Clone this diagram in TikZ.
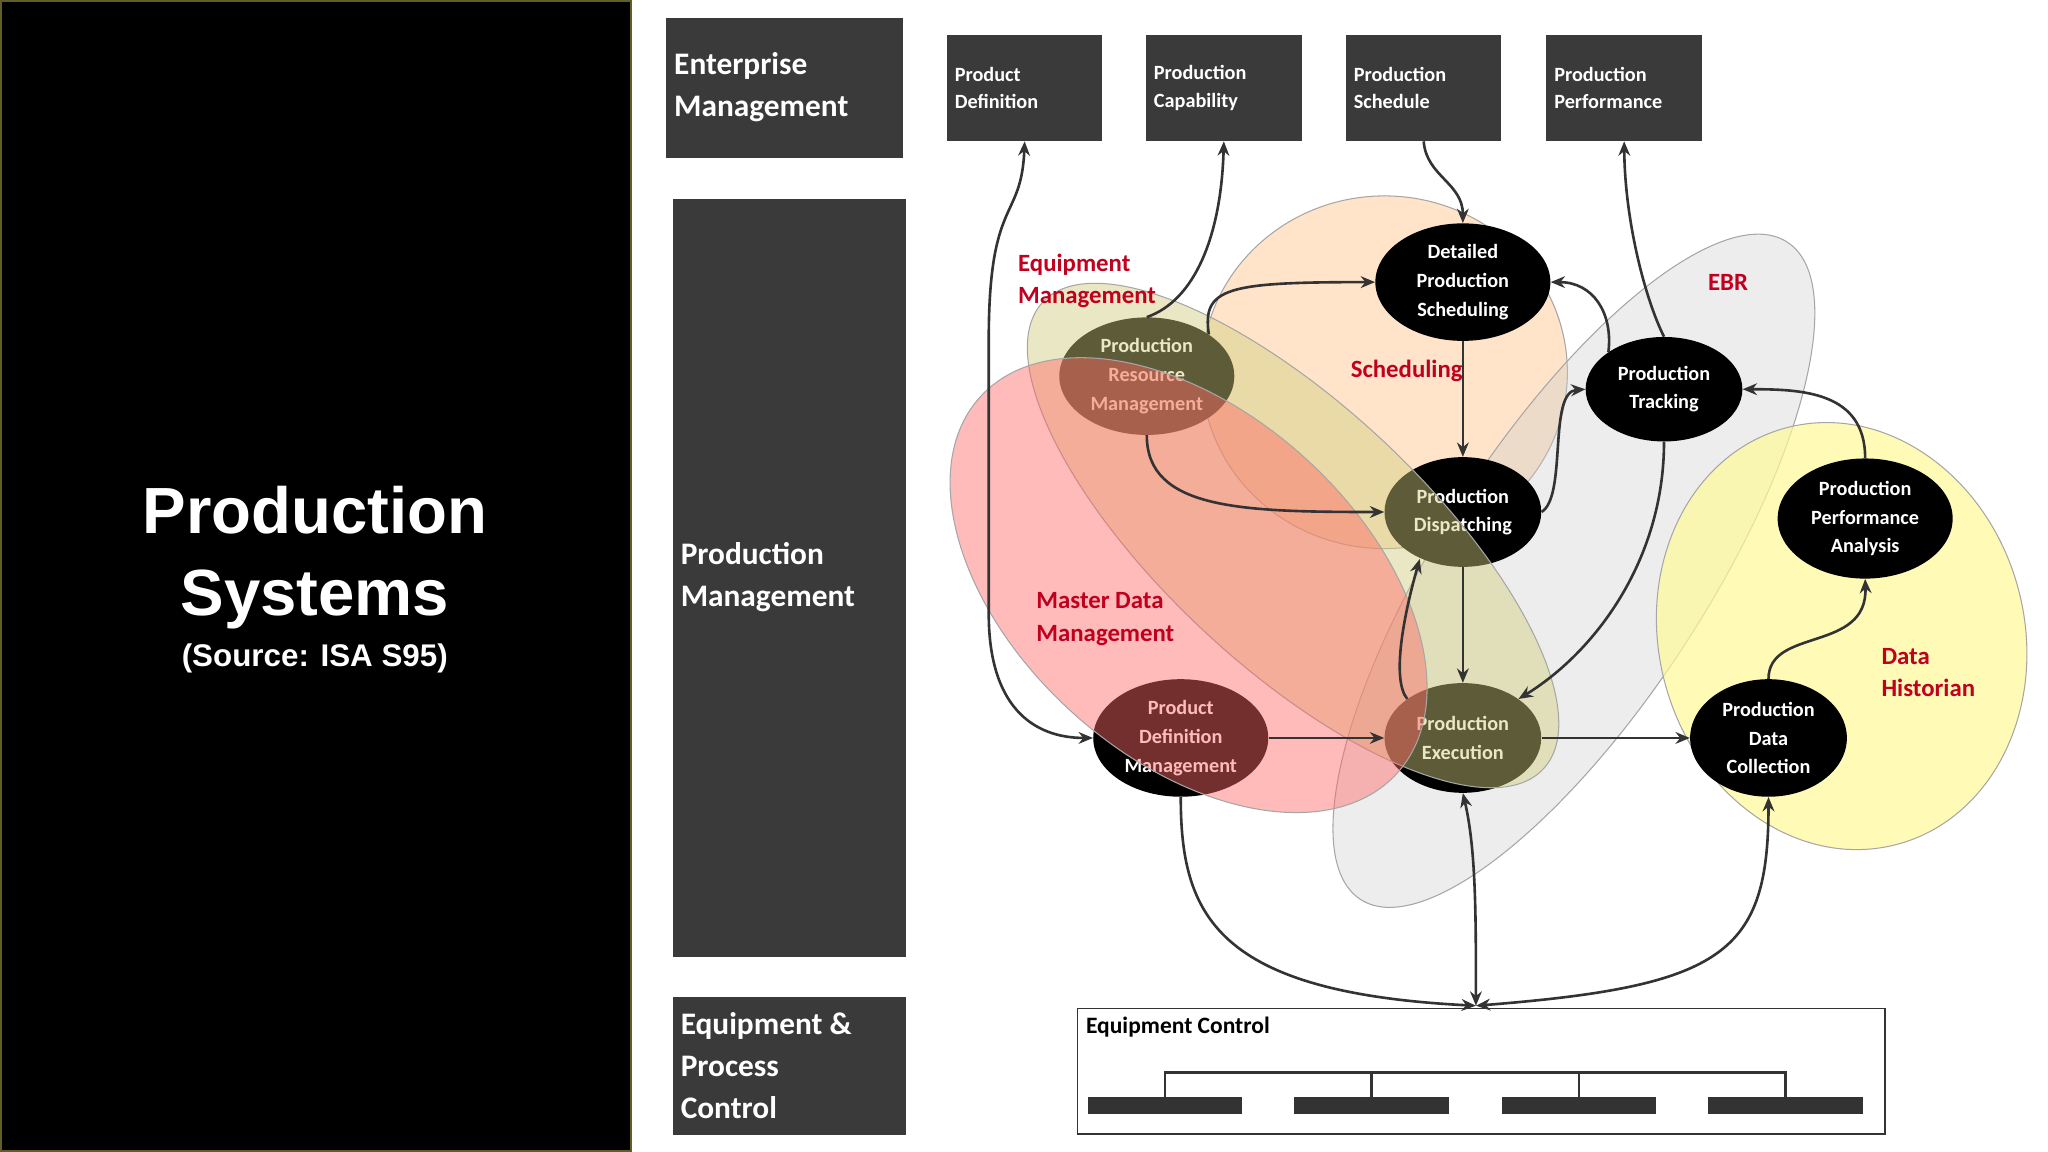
\documentclass[tikz,border=0pt]{standalone}
\usepackage{fontspec}
\setmainfont{Carlito}
\newfontfamily\titlefont{Liberation Sans}
\usetikzlibrary{arrows.meta,shapes.geometric}
\definecolor{boxgray}{HTML}{3A3A3A}
\definecolor{lblred}{HTML}{C0001E}
\definecolor{arr}{HTML}{333333}
\begin{document}
\begin{tikzpicture}[x=1pt,y=-1pt,
  grey/.style={fill=boxgray,draw=none,text=white,font=\bfseries\fontsize{24}{32}\selectfont,align=left,anchor=north west,inner sep=6pt},
  topbox/.style={fill=boxgray,draw=none,text=white,font=\bfseries\fontsize{15.5}{21}\selectfont,align=left,minimum width=119pt,minimum height=81pt,text width=107pt,inner sep=5pt},
  func/.style={ellipse,fill=black,text=white,font=\bfseries\fontsize{15.5}{22}\selectfont,align=center,inner sep=0pt,minimum width=134pt,minimum height=90pt},
  lbl/.style={text=lblred,font=\bfseries\fontsize{19}{25}\selectfont,align=left},
  con/.style={draw=arr,line width=2pt,-{Stealth[length=11pt,width=9pt]}},
  blob/.style={draw=gray!70,line width=0.8pt,fill opacity=0.4}]
\useasboundingbox (0,0) rectangle (1568,882);
\fill[white] (0,0) rectangle (1568,882);
\fill[black] (0,0) rectangle (483,882);
\draw[draw=olive!60!black,line width=1.5pt] (1,1) rectangle (483,881);
\node[text=white,font=\titlefont\bfseries\fontsize{50}{63}\selectfont,align=center] (title) at (241,427) {Production\\Systems};
\node[text=white,font=\titlefont\bfseries\fontsize{24}{30}\selectfont] (src) at (241,504) {(Source: ISA S95)};
% left grey boxes
\fill[boxgray] (510,14) rectangle (691,121);
\node[grey,anchor=west] (em) at (510,67) {Enterprise\\Management};
\fill[boxgray] (515,152) rectangle (694,733);
\node[grey,anchor=west] (pm) at (515,442) {Production\\Management};
\fill[boxgray] (515,763) rectangle (694,869);
\node[grey,anchor=west] (epc) at (515,816) {Equipment \&\\Process\\Control};
% top boxes
\node[topbox] (pd) at (784.5,67.5) {Product\\Definition};
\node[topbox] (pc) at (937,67.5) {Production\\Capability};
\node[topbox] (ps) at (1090,67.5) {Production\\Schedule};
\node[topbox] (pp) at (1243.5,67.5) {Production\\Performance};
% background blobs
\path[blob,fill=orange!35,fill opacity=0.6] (1060,285) ellipse [x radius=140,y radius=135];
\path[blob,fill=gray!40,fill opacity=0.35,rotate around={57:(1205,437)}] (1205,437) ellipse [x radius=300,y radius=102];
\path[blob,fill=yellow!40,fill opacity=0.7,rotate around={15:(1410,487)}] (1410,487) ellipse [x radius=140,y radius=165];
% function ellipses
\node[func] (dps) at (1120,216) {Detailed\\Production\\Scheduling};
\node[func,minimum width=120pt,minimum height=80pt] (tr) at (1274,298) {Production\\Tracking};
\node[func,minimum width=120pt,minimum height=84pt] (dis) at (1120,392) {Production\\Dispatching};
\node[func,minimum height=92pt] (ppa) at (1428,397) {Production\\Performance\\Analysis};
\node[func,minimum width=120pt,minimum height=84pt] (ex) at (1120,565) {Production\\Execution};
\node[func,minimum width=120pt] (pdc) at (1354,565) {Production\\Data\\Collection};
\node[func] (pdm) at (904,565) {Product\\Definition\\Management};
\node[func] (prm) at (878,288) {Production\\Resource\\Management};
% overlay blobs
\path[blob,fill=olive!40,fill opacity=0.45,rotate around={-43:(990,410)}] (990,410) ellipse [x radius=262,y radius=100];
\path[blob,fill=red!60,fill opacity=0.45,rotate around={-42:(910,448)}] (910,448) ellipse [x radius=215,y radius=132];
% labels
\node[lbl,anchor=west] (l1) at (776,215) {Equipment\\Management};
\node[lbl] (l2) at (1077,284) {Scheduling};
\node[lbl] (l3) at (1323,216) {EBR};
\node[lbl,anchor=west] (l4) at (790,474) {Master Data\\Management};
\node[lbl,anchor=west] (l5) at (1437,515) {Data\\Historian};
% equipment control
\draw[arr,line width=1.2pt] (825,772) rectangle (1443,868);
\node[font=\bfseries\fontsize{18}{22}\selectfont,anchor=west] (ec) at (828,786) {Equipment Control};
\coordinate (ect) at (1130,770);
\foreach \x in {892,1050,1209,1367}{
  \fill[arr] (\x-59,840) rectangle (\x+59,853);
}
\draw[arr,line width=2pt] (892,840) -- (892,821) -- (1367,821) -- (1367,840);
\draw[arr,line width=2pt] (1050,821) -- (1050,840) (1209,821) -- (1209,840);
% connectors
\draw[con,{Stealth[length=11pt,width=9pt]}-{Stealth[length=11pt,width=9pt]}] (pd.south) .. controls (782,170) and (757,150) .. (757,260) -- (757,470) .. controls (757,540) and (790,565) .. (pdm.west);
\draw[con] (prm.north) .. controls (915,230) and (935,180) .. (pc.south);
\draw[con] (ps.south) .. controls (1092,135) and (1120,140) .. (dps.north);
\draw[con] (tr.north) .. controls (1260,230) and (1244,170) .. (pp.south);
\draw[con] (prm.north east) .. controls (920,220) and (940,216) .. (dps.west);
\draw[con] (dps.south) -- (dis.north);
\draw[con] (tr.north west) .. controls (1235,240) and (1220,216) .. (dps.east);
\draw[con] (dis.east) .. controls (1200,380) and (1185,300) .. (tr.west);
\draw[con] (prm.south) .. controls (878,390) and (950,392) .. (dis.west);
\draw[con] (dis.south) -- (ex.north);
\draw[con] (ex.north west) .. controls (1065,520) and (1075,470) .. (1087,428);
\draw[con] (pdm.east) -- (ex.west);
\draw[con] (tr.south) .. controls (1274,430) and (1220,500) .. (ex.north east);
\draw[con] (ex.east) -- (pdc.west);
\draw[con] (pdc.north) .. controls (1354,480) and (1430,500) .. (ppa.south);
\draw[con] (ppa.north) .. controls (1428,300) and (1380,298) .. (tr.east);
\draw[con] (pdm.south) .. controls (904,700) and (930,760) .. (ect);
\draw[con,{Stealth[length=11pt,width=9pt]}-{Stealth[length=11pt,width=9pt]}] (ex.south) .. controls (1130,650) and (1130,700) .. (ect);
\draw[con,{Stealth[length=11pt,width=9pt]}-{Stealth[length=11pt,width=9pt]}] (pdc.south) .. controls (1354,730) and (1320,755) .. (ect);
\end{tikzpicture}
\end{document}
